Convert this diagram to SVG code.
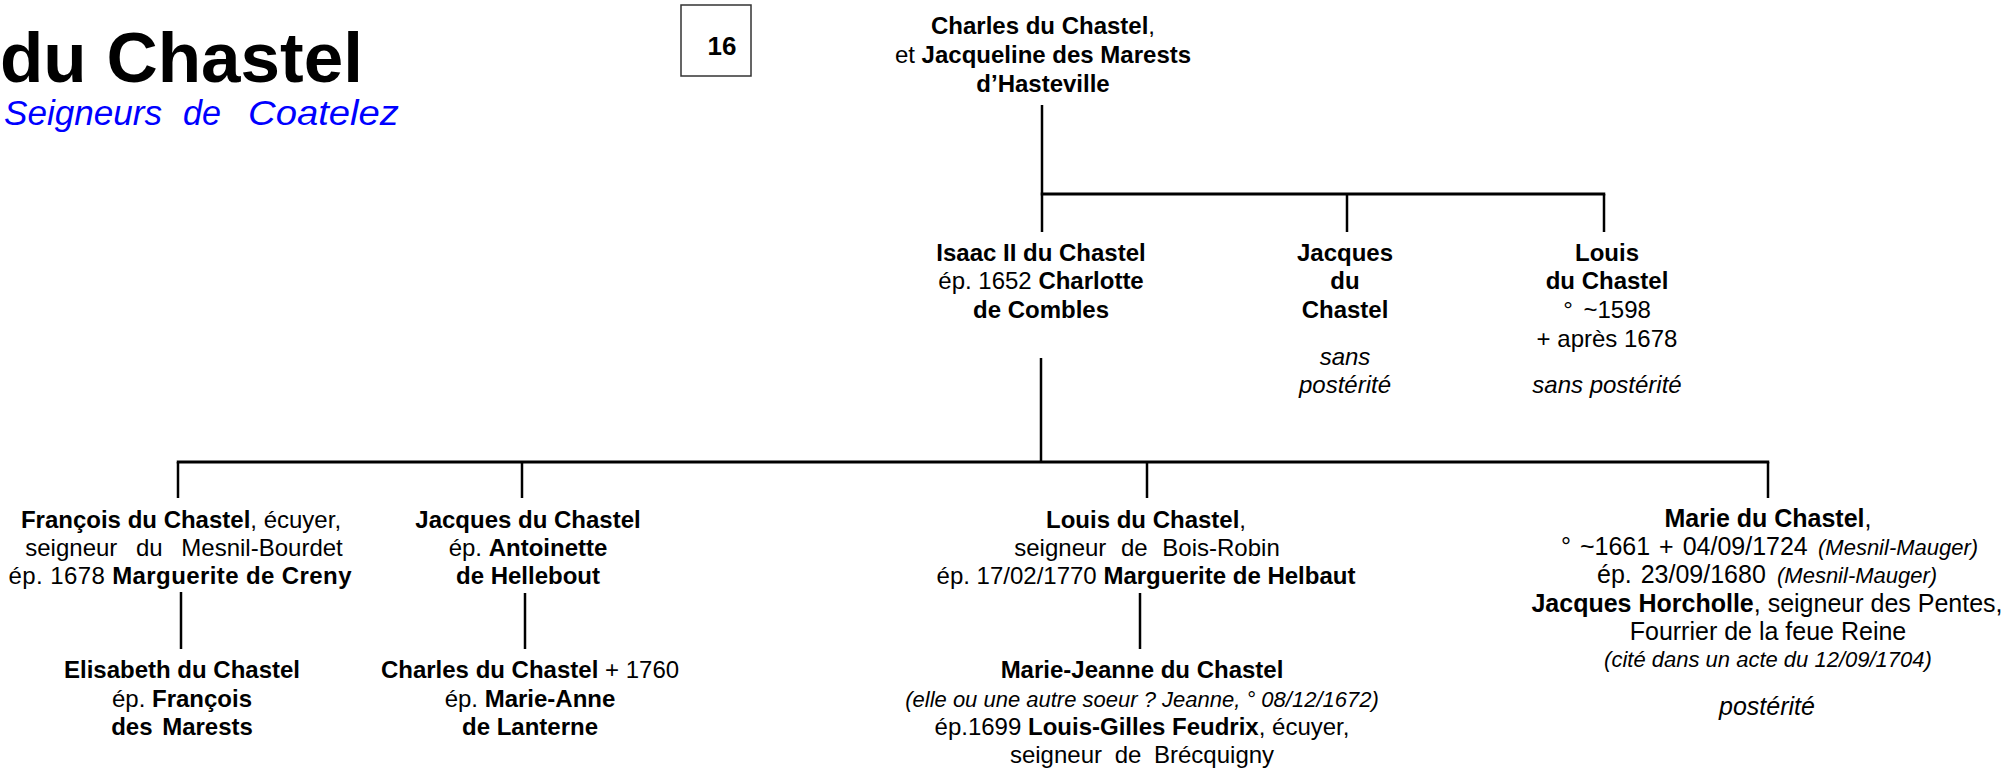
<svg xmlns="http://www.w3.org/2000/svg" width="2005" height="770" viewBox="0 0 2005 770">
<style>
text{font-family:"Liberation Sans",Arial,sans-serif;font-size:24px;fill:#000;text-anchor:middle}
.b{font-weight:bold}
.i{font-style:italic}
.s{font-size:22px}
.l{text-anchor:start}
.m{font-size:25px}
.sub{font-style:italic;font-size:35px;fill:#0000ff;text-anchor:start}
.ln{stroke:#000;stroke-width:2.5;fill:none}
</style>
<rect width="2005" height="770" fill="#fff"/>
<g id="title">
<text class="b l" x="0" y="82" style="font-size:71px">du Chastel</text>
<text class="sub" x="4" y="125" textLength="158" lengthAdjust="spacingAndGlyphs">Seigneurs</text>
<text class="sub" x="183" y="125" textLength="38" lengthAdjust="spacingAndGlyphs">de</text>
<text class="sub" x="248" y="125" textLength="151" lengthAdjust="spacingAndGlyphs">Coatelez</text>
</g>
<g id="page-number">
<rect x="681" y="5" width="70" height="71" fill="none" stroke="#333" stroke-width="1.5"/>
<text class="b" x="722" y="55" style="font-size:26px">16</text>
</g>
<g id="connectors" class="ln">
<line x1="1042" y1="105" x2="1042" y2="194"/>
<line x1="1040.75" y1="194" x2="1605.25" y2="194" stroke-width="3"/>
<line x1="1042" y1="194" x2="1042" y2="232"/>
<line x1="1347" y1="194" x2="1347" y2="232"/>
<line x1="1604" y1="194" x2="1604" y2="232"/>
<line x1="1041" y1="358" x2="1041" y2="462"/>
<line x1="176.75" y1="462" x2="1769.25" y2="462" stroke-width="3"/>
<line x1="178" y1="462" x2="178" y2="498"/>
<line x1="522" y1="462" x2="522" y2="498"/>
<line x1="1147" y1="462" x2="1147" y2="498"/>
<line x1="1768" y1="462" x2="1768" y2="498"/>
<line x1="181" y1="592" x2="181" y2="649"/>
<line x1="525" y1="593" x2="525" y2="649"/>
<line x1="1140" y1="593" x2="1140" y2="649"/>
</g>
<g id="charles-jacqueline">
<text x="1043" y="34"><tspan class="b">Charles du Chastel</tspan>,</text>
<text x="1043" y="63">et <tspan class="b">Jacqueline des Marests</tspan></text>
<text class="b" x="1043" y="92">d’Hasteville</text>
</g>
<g id="isaac">
<text class="b" x="1041" y="261">Isaac II du Chastel</text>
<text x="1041" y="289">ép. 1652 <tspan class="b">Charlotte</tspan></text>
<text class="b" x="1041" y="318">de Combles</text>
</g>
<g id="jacques">
<text class="b" x="1345" y="261">Jacques</text>
<text class="b" x="1345" y="289">du</text>
<text class="b" x="1345" y="318">Chastel</text>
<text class="i" x="1345" y="365">sans</text>
<text class="i" x="1345" y="393">postérité</text>
</g>
<g id="louis">
<text class="b" x="1607" y="261">Louis</text>
<text class="b" x="1607" y="289">du Chastel</text>
<text x="1607" y="318" style="word-spacing:4px">° ~1598</text>
<text x="1607" y="347">+ après 1678</text>
<text class="i" x="1607" y="393">sans postérité</text>
</g>
<g id="francois">
<text x="181" y="528"><tspan class="b">François du Chastel</tspan>, écuyer,</text>
<text x="184" y="556" style="word-spacing:12px">seigneur du Mesnil-Bourdet</text>
<text x="180" y="584" textLength="343">ép. 1678 <tspan class="b">Marguerite de Creny</tspan></text>
</g>
<g id="elisabeth">
<text class="b" x="182" y="678">Elisabeth du Chastel</text>
<text x="182" y="707">ép. <tspan class="b">François</tspan></text>
<text class="b" x="182" y="735" style="word-spacing:3px">des Marests</text>
</g>
<g id="jacques-fils">
<text class="b" x="528" y="528">Jacques du Chastel</text>
<text x="528" y="556">ép. <tspan class="b">Antoinette</tspan></text>
<text class="b" x="528" y="584">de Hellebout</text>
</g>
<g id="charles-fils">
<text x="530" y="678"><tspan class="b">Charles du Chastel</tspan> + 1760</text>
<text x="530" y="707">ép. <tspan class="b">Marie-Anne</tspan></text>
<text class="b" x="530" y="735">de Lanterne</text>
</g>
<g id="louis-fils">
<text x="1146" y="528"><tspan class="b">Louis du Chastel</tspan>,</text>
<text x="1147" y="556" style="word-spacing:8px">seigneur de Bois-Robin</text>
<text x="1146" y="584">ép. 17/02/1770 <tspan class="b">Marguerite de Helbaut</tspan></text>
</g>
<g id="marie-jeanne">
<text class="b" x="1142" y="678">Marie-Jeanne du Chastel</text>
<text class="i s" x="1142" y="707">(elle ou une autre soeur ? Jeanne, ° 08/12/1672)</text>
<text x="1142" y="735">ép.1699 <tspan class="b">Louis-Gilles Feudrix</tspan>, écuyer,</text>
<text x="1142" y="763" style="word-spacing:6px">seigneur de Brécquigny</text>
</g>
<g id="marie">
<text class="m" x="1768" y="527"><tspan class="b">Marie du Chastel</tspan>,</text>
<text class="l m" x="1561" y="555" style="word-spacing:2px">° ~1661 + 04/09/1724<tspan class="i s" x="1818">(Mesnil-Mauger)</tspan></text>
<text class="l m" x="1597" y="583" style="word-spacing:2px">ép. 23/09/1680<tspan class="i s" x="1777">(Mesnil-Mauger)</tspan></text>
<text class="m" x="1767" y="612"><tspan class="b">Jacques Horcholle</tspan>, seigneur des Pentes,</text>
<text class="m" x="1768" y="640">Fourrier de la feue Reine</text>
<text class="i s" x="1768" y="667">(cité dans un acte du 12/09/1704)</text>
<text class="i m" x="1767" y="715">postérité</text>
</g>
</svg>
